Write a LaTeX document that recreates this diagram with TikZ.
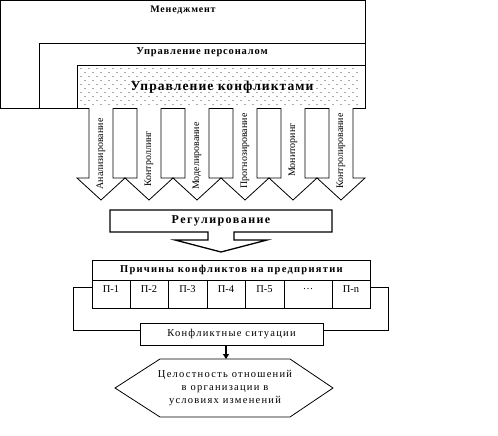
\documentclass[tikz,border=0pt]{standalone}
\usepackage{fontspec}
\setmainfont{Liberation Serif}
\newfontfamily\spc[LetterSpace=8]{Liberation Serif}
\newfontfamily\spcw[LetterSpace=12]{Liberation Serif}
\usetikzlibrary{arrows.meta}
\begin{document}
\begin{tikzpicture}[x=1pt,y=-1pt]
\useasboundingbox (0,0) rectangle (498,436);
\tikzset{
  box/.style={draw=black, line width=0.8pt},
  thickbox/.style={draw=black, line width=1.3pt},
  lbl/.style={inner sep=0pt, font=\spc\bfseries\fontsize{10}{12}\selectfont},
  plain/.style={inner sep=0pt, font=\spcw\fontsize{10.5}{13}\selectfont, align=center},
  vlbl/.style={inner sep=0pt, rotate=90, font=\fontsize{10}{10}\selectfont},
  cell/.style={draw=black, line width=0.8pt, minimum height=28pt, inner sep=0pt, anchor=north west}
}
% nested boxes
\draw[box] (0.6,0.6) rectangle (365,108);
\draw[box] (39,43) rectangle (365,108);
\draw[box] (77,65) rectangle (365,108);
\foreach \r in {0,...,9}
  \foreach \c in {0,...,34}
    \fill[black!65] ({81+8*\c+4*mod(\r,2)},{68.5+4*\r}) circle (0.55pt);
\node[lbl] (mgmt) at (183,10) {Менеджмент};
\node[lbl, font=\spc\bfseries\fontsize{10.5}{12}\selectfont] (pers) at (202,52) {Управление персоналом};
\node[lbl, font=\spc\bfseries\fontsize{13.5}{15}\selectfont] (conflm) at (222,87) {Управление конфликтами};
% down arrows
\foreach \cx/\lab/\ty [count=\i] in {101/Анализирование/154, 149/Контроллинг/159, 197/Моделирование/156, 245/Прогнозирование/151, 293/Мониторинг/150, 341/Контролирование/151}{
  \draw[box, fill=white] (\cx-12,108) -- (\cx-12,178) -- (\cx-24,178) -- (\cx,200) -- (\cx+24,178) -- (\cx+12,178) -- (\cx+12,108);
  \node[vlbl] (a\i) at (\cx,\ty) {\lab};
}
% regulation arrow-box
\draw[thickbox] (110,210) -- (332,210) -- (332,232) -- (234,232) -- (234,240) -- (267,240) -- (221,252) -- (175,240) -- (208,240) -- (208,232) -- (110,232) -- cycle;
\node[lbl, font=\spcw\bfseries\fontsize{12}{13}\selectfont] (reg) at (221,220.5) {Регулирование};
% causes table
\node[draw=black, line width=0.8pt, minimum width=278pt, minimum height=20pt, inner sep=0pt, anchor=north west] (causes) at (92,260) {};
\node[lbl, font=\spcw\bfseries\fontsize{10.5}{12}\selectfont] (causestxt) at (causes.center) {Причины конфликтов на предприятии};
\foreach \x/\w/\t [count=\j] in {92/38/П-1, 130/38/П-2, 168/39/П-3, 207/38/П-4, 245/39/П-5, 284/48/\dots, 332/38/П-n}{
  \node[cell, minimum width=\w pt] (c\j) at (\x,280) {};
  \node[inner sep=0pt, font=\fontsize{10.5}{12}\selectfont] (t\j) at (\x+\w/2,289) {\t};
}
% conflict situations
\node[draw=black, line width=0.8pt, minimum width=183pt, minimum height=22pt, inner sep=0pt, font=\spcw\fontsize{10.5}{12}\selectfont] (conf) at (231.5,334) {Конфликтные ситуации};
\draw[box] ([yshift=7pt]c1.west) -- ++(-19,0) |- ([yshift=4pt]conf.west);
\draw[box] ([yshift=7pt]c7.east) -- ++(18,0) |- ([yshift=4pt]conf.east);
% hexagon
\coordinate (hl) at (115,388);
\coordinate (htl) at (160,359);
\coordinate (htr) at (290,359);
\coordinate (hr) at (333,388);
\coordinate (hbr) at (290,417);
\coordinate (hbl) at (160,417);
\coordinate (htop) at (226,359);
\draw[box] (hl) -- (htl) -- (htr) -- (hr) -- (hbr) -- (hbl) -- cycle;
\node[plain] (hex) at (225,388) {Целостность отношений\\в организации в\\условиях изменений};
\draw[line width=1.3pt, -{Triangle[width=6pt,length=5pt]}] (conf.south -| htop) -- (htop);
\end{tikzpicture}
\end{document}
